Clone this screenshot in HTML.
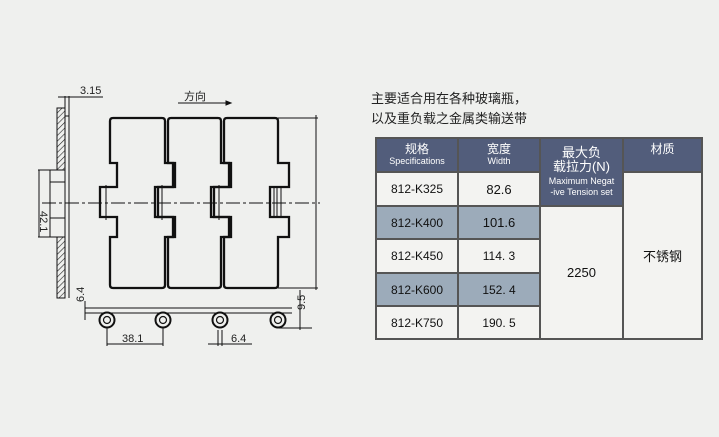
<!DOCTYPE html>
<html><head><meta charset="utf-8"><style>
html,body{margin:0;padding:0;background:#eff0ee;}
body{width:719px;height:437px;overflow:hidden;position:relative;font-family:"Liberation Sans","Noto Sans CJK SC",sans-serif;}
.t{position:absolute;font-size:13px;color:#222;left:371px;}
table{position:absolute;left:375px;top:137px;border-collapse:collapse;width:328px;}
td{border:2px solid #555;text-align:center;font-size:12px;color:#111;padding:0;}
.h{background:#525d7b;color:#fff;line-height:12px;}
.h small{font-size:9px;display:block;}
.l{background:#f3f3f1;}
.b{background:#9cabba;}
</style></head><body>
<div class="t" style="top:88px">主要适合用在各种玻璃瓶，</div>
<div class="t" style="top:108px">以及重负载之金属类输送带</div>
<table>
<tr style="height:34px"><td class="h" style="width:80px">规格<small>Specifications</small></td><td class="h" style="width:80px">宽度<small>Width</small></td><td class="h" rowspan="2" style="width:81px;font-size:13px;line-height:14px">最大负<br>载拉力(N)<small style="margin-top:2px;line-height:11px">Maximum Negat<br>-ive Tension set</small></td><td class="h" style="vertical-align:top;padding-top:4px">材质</td></tr>
<tr style="height:34px"><td class="l">812-K325</td><td class="l" style="font-size:13px">82.6</td><td class="l" rowspan="5" style="font-size:13px">不锈钢</td></tr>
<tr style="height:33px"><td class="b">812-K400</td><td class="b" style="font-size:13px">101.6</td><td class="l" rowspan="4" style="font-size:13px">2250</td></tr>
<tr style="height:34px"><td class="l">812-K450</td><td class="l">114. 3</td></tr>
<tr style="height:33px"><td class="b">812-K600</td><td class="b">152. 4</td></tr>
<tr style="height:33px"><td class="l">812-K750</td><td class="l">190. 5</td></tr>
</table>
<svg width="719" height="437" style="position:absolute;left:0;top:0" font-family="Liberation Sans, Noto Sans CJK SC, sans-serif">
<defs><pattern id="hp" width="4" height="4" patternUnits="userSpaceOnUse" patternTransform="rotate(45)"><line x1="0" y1="0" x2="0" y2="4" stroke="#222" stroke-width="1.2"/></pattern></defs>
<g fill="none" stroke="#111" stroke-width="2.3">
<path d="M113,118 H162 Q165,118 165,121 V163 H173 V187 H155 V217 H173 V237 H165 V285 Q165,288 162,288 H113 Q110,288 110,285 V237 H117 V217 H100 V187 H117 V163 H110 V121 Q110,118 113,118 Z"/>
<path d="M171,118 H218 Q221,118 221,121 V163 H229 V187 H211 V217 H229 V237 H221 V285 Q221,288 218,288 H171 Q168,288 168,285 V237 H175 V217 H158 V187 H175 V163 H168 V121 Q168,118 171,118 Z"/>
<path d="M227,118 H275 Q278,118 278,121 V163 H289 V187 H270 V217 H289 V237 H278 V285 Q278,288 275,288 H227 Q224,288 224,285 V237 H231 V217 H214 V187 H231 V163 H224 V121 Q224,118 227,118 Z"/>
</g>
<g stroke="#111" stroke-width="1" fill="none">
<line x1="42" y1="203" x2="320" y2="203" stroke-dasharray="14,3,3,3"/>
<line x1="106" y1="185" x2="106" y2="220"/><line x1="162" y1="185" x2="162" y2="220"/><line x1="219" y1="185" x2="219" y2="220"/>
<line x1="274" y1="187" x2="274" y2="217"/><line x1="277" y1="187" x2="277" y2="217"/><line x1="281" y1="187" x2="281" y2="217"/>
<line x1="278" y1="118" x2="318" y2="118"/><line x1="278" y1="288" x2="318" y2="288"/><line x1="316" y1="115" x2="316" y2="290"/>
<rect x="57" y="108" width="8" height="62" fill="url(#hp)" stroke="#111"/>
<rect x="57" y="237" width="8" height="61" fill="url(#hp)" stroke="#111"/>
<rect x="50" y="170" width="15" height="67"/>
<line x1="50" y1="182" x2="65" y2="182"/><line x1="50" y1="218" x2="65" y2="218"/>
<line x1="69" y1="116" x2="69" y2="298"/><line x1="65" y1="116" x2="69" y2="116"/>
<line x1="38" y1="170" x2="50" y2="170"/><line x1="38" y1="237" x2="50" y2="237"/><line x1="39" y1="170" x2="39" y2="237"/>
<line x1="65" y1="96" x2="65" y2="108"/><line x1="69" y1="96" x2="69" y2="116"/><line x1="58" y1="97" x2="103" y2="97"/>
<line x1="178" y1="103" x2="231" y2="103"/><path d="M231,103 l-5,-2 v4 z" fill="#111"/>
<line x1="85" y1="308" x2="292" y2="308"/><line x1="85" y1="313" x2="292" y2="313"/>
<line x1="85" y1="301" x2="85" y2="320"/>
<line x1="279" y1="328" x2="312" y2="328"/><line x1="300" y1="290" x2="300" y2="330"/>
<line x1="107" y1="322" x2="107" y2="346"/><line x1="163" y1="322" x2="163" y2="346"/><line x1="107" y1="344" x2="163" y2="344"/>
<line x1="218" y1="330" x2="218" y2="346"/><line x1="222" y1="330" x2="222" y2="346"/><line x1="208" y1="344" x2="252" y2="344"/>
</g>
<g fill="#eff0ee" stroke="#111" stroke-width="2">
<circle cx="107" cy="320" r="7.5"/><circle cx="163" cy="320" r="7.5"/><circle cx="220" cy="320" r="7.5"/><circle cx="278" cy="320" r="7.5"/>
</g>
<g fill="none" stroke="#111" stroke-width="1.2">
<circle cx="107" cy="320" r="3.5"/><circle cx="163" cy="320" r="3.5"/><circle cx="220" cy="320" r="3.5"/><circle cx="278" cy="320" r="3.5"/>
</g>
<g font-size="11" fill="#222">
<text x="80" y="94">3.15</text>
<text x="184" y="100">方向</text>
<text x="122" y="342">38.1</text>
<text x="231" y="342">6.4</text>
<text transform="translate(40,211) rotate(90)">42.1</text>
<text transform="translate(84,302) rotate(-90)">6.4</text>
<text transform="translate(305,310) rotate(-90)">9.5</text>
</g>
</svg>
</body></html>
